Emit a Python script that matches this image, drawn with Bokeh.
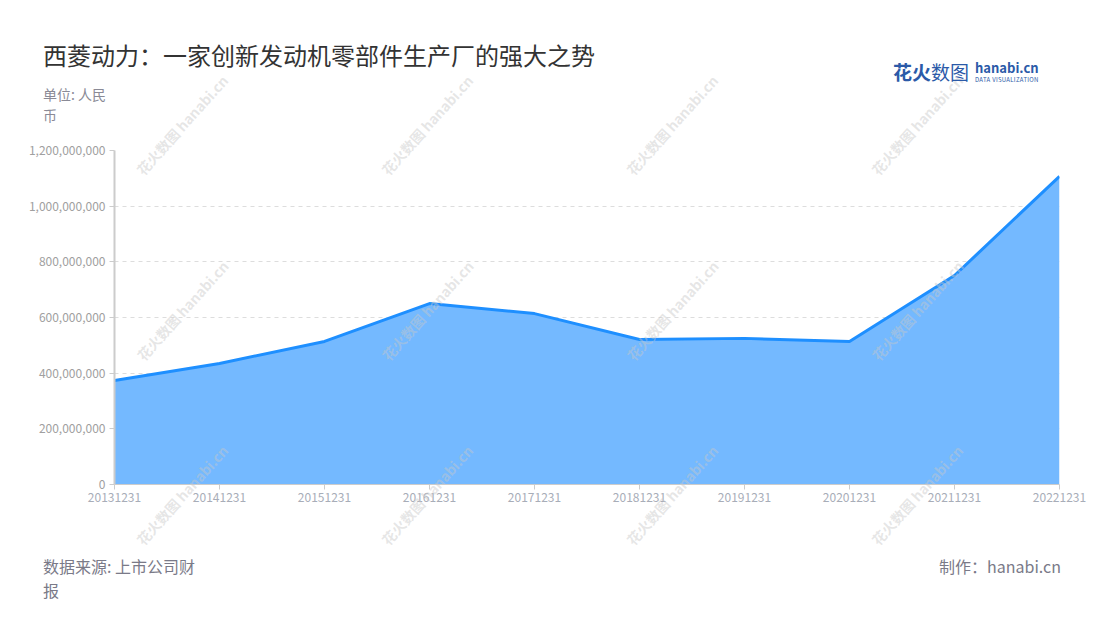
from bokeh.plotting import figure
from bokeh.models import Range1d, FixedTicker, NumeralTickFormatter, Label, Div
from bokeh.layouts import column
from bokeh.embed import file_html
from bokeh.resources import INLINE

# ---- data ----
categories = ["20131231", "20141231", "20151231", "20161231", "20171231",
              "20181231", "20191231", "20201231", "20211231", "20221231"]
revenue = [374e6, 435e6, 514e6, 650e6, 614e6, 521e6, 525e6, 514e6, 751e6, 1107e6]
y_ticks = [0, 200e6, 400e6, 600e6, 800e6, 1000e6, 1200e6]

title_text = "西菱动力：一家创新发动机零部件生产厂的强大之势"
unit_lines = ["单位: 人民", "币"]
source_lines = ["数据来源: 上市公司财", "报"]
credit_text = "制作：hanabi.cn"
watermark_text = "花火数图 hanabi.cn"

FONT = "Noto Sans CJK SC"
W = 1100
WM_COLS = [182, 427, 672, 917]

xs = list(range(len(categories)))

p = figure(width=W, height=380, output_backend="svg", toolbar_location=None,
           x_range=Range1d(0, len(categories) - 1), y_range=Range1d(0, 1.2e9),
           min_border_left=114, min_border_right=41, min_border_top=10,
           min_border_bottom=36)
p.outline_line_color = None
p.background_fill_color = None
p.border_fill_color = None

# area + line
p.varea(x=xs, y1=[0] * len(xs), y2=revenue, fill_color="#74b9ff", fill_alpha=1.0)
p.line(x=xs, y=revenue, line_color="#1e8fff", line_width=3)

# axes
p.xaxis.ticker = FixedTicker(ticks=xs)
p.xaxis.major_label_overrides = {i: c for i, c in enumerate(categories)}
p.xaxis.axis_line_color = "#cccccc"
p.xaxis.major_tick_line_color = "#cccccc"
p.xaxis.major_tick_out = 5
p.xaxis.major_tick_in = 0
p.xaxis.minor_tick_line_color = None
p.xaxis.major_label_text_color = "#a8adb8"
p.xaxis.major_label_text_font = FONT
p.xaxis.major_label_text_font_size = "12px"
p.xaxis.major_label_standoff = 3

p.yaxis.ticker = FixedTicker(ticks=y_ticks)
p.yaxis.formatter = NumeralTickFormatter(format="0,0")
p.yaxis.axis_line_color = "#cccccc"
p.yaxis.axis_line_width = 2
p.yaxis.major_tick_line_color = "#cccccc"
p.yaxis.major_tick_out = 5
p.yaxis.major_tick_in = 0
p.yaxis.minor_tick_line_color = None
p.yaxis.major_label_text_color = "#a0a0a0"
p.yaxis.major_label_text_font = FONT
p.yaxis.major_label_text_font_size = "12px"
p.yaxis.major_label_standoff = 4

p.xgrid.grid_line_color = None
p.ygrid.grid_line_color = "#dddddd"
p.ygrid.grid_line_dash = "4 4"

FL, FB = 114, 484  # frame left / bottom in page px

# middle row of watermarks (fully inside the plot frame, drawn over the area)
for cx in WM_COLS:
    L = Label(x=cx - FL, y=FB - 310, x_units="screen", y_units="screen",
              text=watermark_text, text_font=FONT, text_font_size="14px",
              text_color="#c8c8c8", text_alpha=0.45, text_font_style="bold",
              text_align="center", text_baseline="middle", angle=48, angle_units="deg")
    L.level = "overlay"
    p.add_layout(L)


def span(left, top, text, size, color, weight="normal", extra=""):
    return (f'<div style="position:absolute;left:{left}px;top:{top}px;font-family:\'{FONT}\';'
            f'font-size:{size}px;line-height:1;color:{color};font-weight:{weight};'
            f'white-space:nowrap;{extra}">{text}</div>')


def rspan(right, top, text, size, color):
    return (f'<div style="position:absolute;right:{right}px;top:{top}px;font-family:\'{FONT}\';'
            f'font-size:{size}px;line-height:1;color:{color};white-space:nowrap;">{text}</div>')


def wm(cx, cy):
    return (f'<div style="position:absolute;left:{cx}px;top:{cy}px;'
            f'transform:translate(-50%,-50%) rotate(-48deg);font-family:\'{FONT}\';'
            f'font-size:14px;font-weight:bold;line-height:1;color:rgba(200,200,200,0.45);'
            f'white-space:nowrap;">{watermark_text}</div>')


header_html = (
    '<div style="position:relative;width:1100px;height:140px;overflow:visible;">'
    + "".join(wm(cx, 125) for cx in WM_COLS)
    + span(43, 43, title_text, 24, "#333333")
    + span(43, 87, unit_lines[0], 14, "#8a8a96")
    + span(43, 108, unit_lines[1], 14, "#8a8a96")
    + span(893, 62, "花火", 19, "#2b5aa8", "bold")
    + span(931, 62, "数图", 19, "#2b5aa8")
    + span(975, 61, "hanabi.cn", 13, "#2b5aa8", "bold")
    + span(975, 77, "DATA VISUALIZATION", 6, "#2b5aa8", extra="letter-spacing:0.3px;")
    + '</div>'
)
header = Div(text=header_html, width=W, height=140, margin=0, styles={"overflow": "visible"})

# footer starts at page y = 520
footer_html = (
    '<div style="position:relative;width:1100px;height:100px;overflow:visible;">'
    + "".join(wm(cx, 495 - 520) for cx in WM_COLS)
    + span(43, 38, source_lines[0], 16, "#7a7a88")
    + span(43, 62, source_lines[1], 16, "#7a7a88")
    + rspan(39, 38, credit_text, 16, "#7a7a88")
    + '</div>'
)
footer = Div(text=footer_html, width=W, height=100, margin=0, styles={"overflow": "visible"})

layout = column(header, p, footer, spacing=0)

open("out.html", "w").write(file_html(layout, INLINE))
